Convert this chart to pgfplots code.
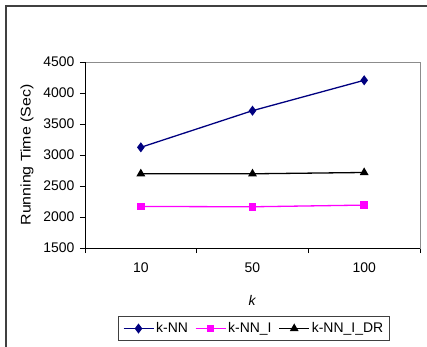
\documentclass[border=0pt]{standalone}
\usepackage{fontspec}
\setmainfont{Liberation Sans}
\usepackage{pgfplots}
\pgfplotsset{compat=1.18}
\definecolor{navyc}{RGB}{0,0,128}
\definecolor{magc}{RGB}{255,0,255}
\begin{document}
\begin{tikzpicture}
\path[use as bounding box] (0bp,0bp) rectangle (427bp,-347bp);
\draw[line width=1.3bp, black!75] (6bp,-6bp) rectangle (470bp,-390bp);
\begin{axis}[
  at={(85bp,-248bp)}, anchor=south west,
  scale only axis, width=335bp, height=186bp,
  xmin=0.5, xmax=3.5, ymin=1500, ymax=4500,
  xtick={1,2,3}, xticklabels={10,50,100},
  minor xtick={0.5,1.5,2.5,3.5},
  ytick={1500,2000,...,4500},
  tick pos=left, tick align=outside,
  major tick length=5bp, minor tick length=5bp,
  major x tick style={draw=none},
  minor x tick style={black, line width=0.8bp},
  major y tick style={black, line width=0.8bp},
  axis line style={black!45, line width=0.8bp},
  tick label style={font=\fontsize{14}{16}\selectfont},
  /pgf/number format/.cd, 1000 sep={}, assume math mode=true, /pgfplots/.cd,
  xticklabel style={yshift=-6bp},
  yticklabel style={xshift=-2bp},
  xlabel={\textit{k}},
  xlabel style={at={(axis description cs:0.5,0)}, anchor=center, yshift=-52bp, font=\fontsize{14}{16}\selectfont},
  ylabel={\scalebox{1.14}[1]{Running Time (Sec)}},
  ylabel style={at={(axis description cs:-0.173,0.5)}, anchor=center, font=\fontsize{14}{16}\selectfont},
  legend columns=3,
  legend style={at={(axis description cs:0.5045,-0.433)}, anchor=center,
    draw=black!75, line width=1.1bp, font=\fontsize{14}{16}\selectfont,
    inner xsep=4bp, inner ysep=4bp,
    /tikz/every even column/.append style={column sep=5bp}},
  legend image code/.code={\draw[mark repeat=2,mark phase=2] plot coordinates {(0bp,0bp) (15bp,0bp) (30bp,0bp)};},
]
\addplot[navyc, line width=1.3bp, mark=diamond*, mark size=4bp, mark options={solid, fill=navyc}]
  coordinates {(1,3124) (2,3715) (3,4205)};
\addlegendentry{k-NN}
\addplot[magc, line width=1.3bp, mark=square*, mark size=3.2bp, mark options={solid, fill=magc}]
  coordinates {(1,2170) (2,2165) (3,2192)};
\addlegendentry{k-NN\_I}
\addplot[black, line width=1.3bp, mark=triangle*, mark size=3.8bp, mark options={solid, fill=black}]
  coordinates {(1,2698) (2,2697) (3,2718)};
\addlegendentry{k-NN\_I\_DR}
\draw[black, line width=0.9bp] (rel axis cs:0,1) -- (rel axis cs:0,0) -- (rel axis cs:1,0);
\end{axis}
\end{tikzpicture}
\end{document}
